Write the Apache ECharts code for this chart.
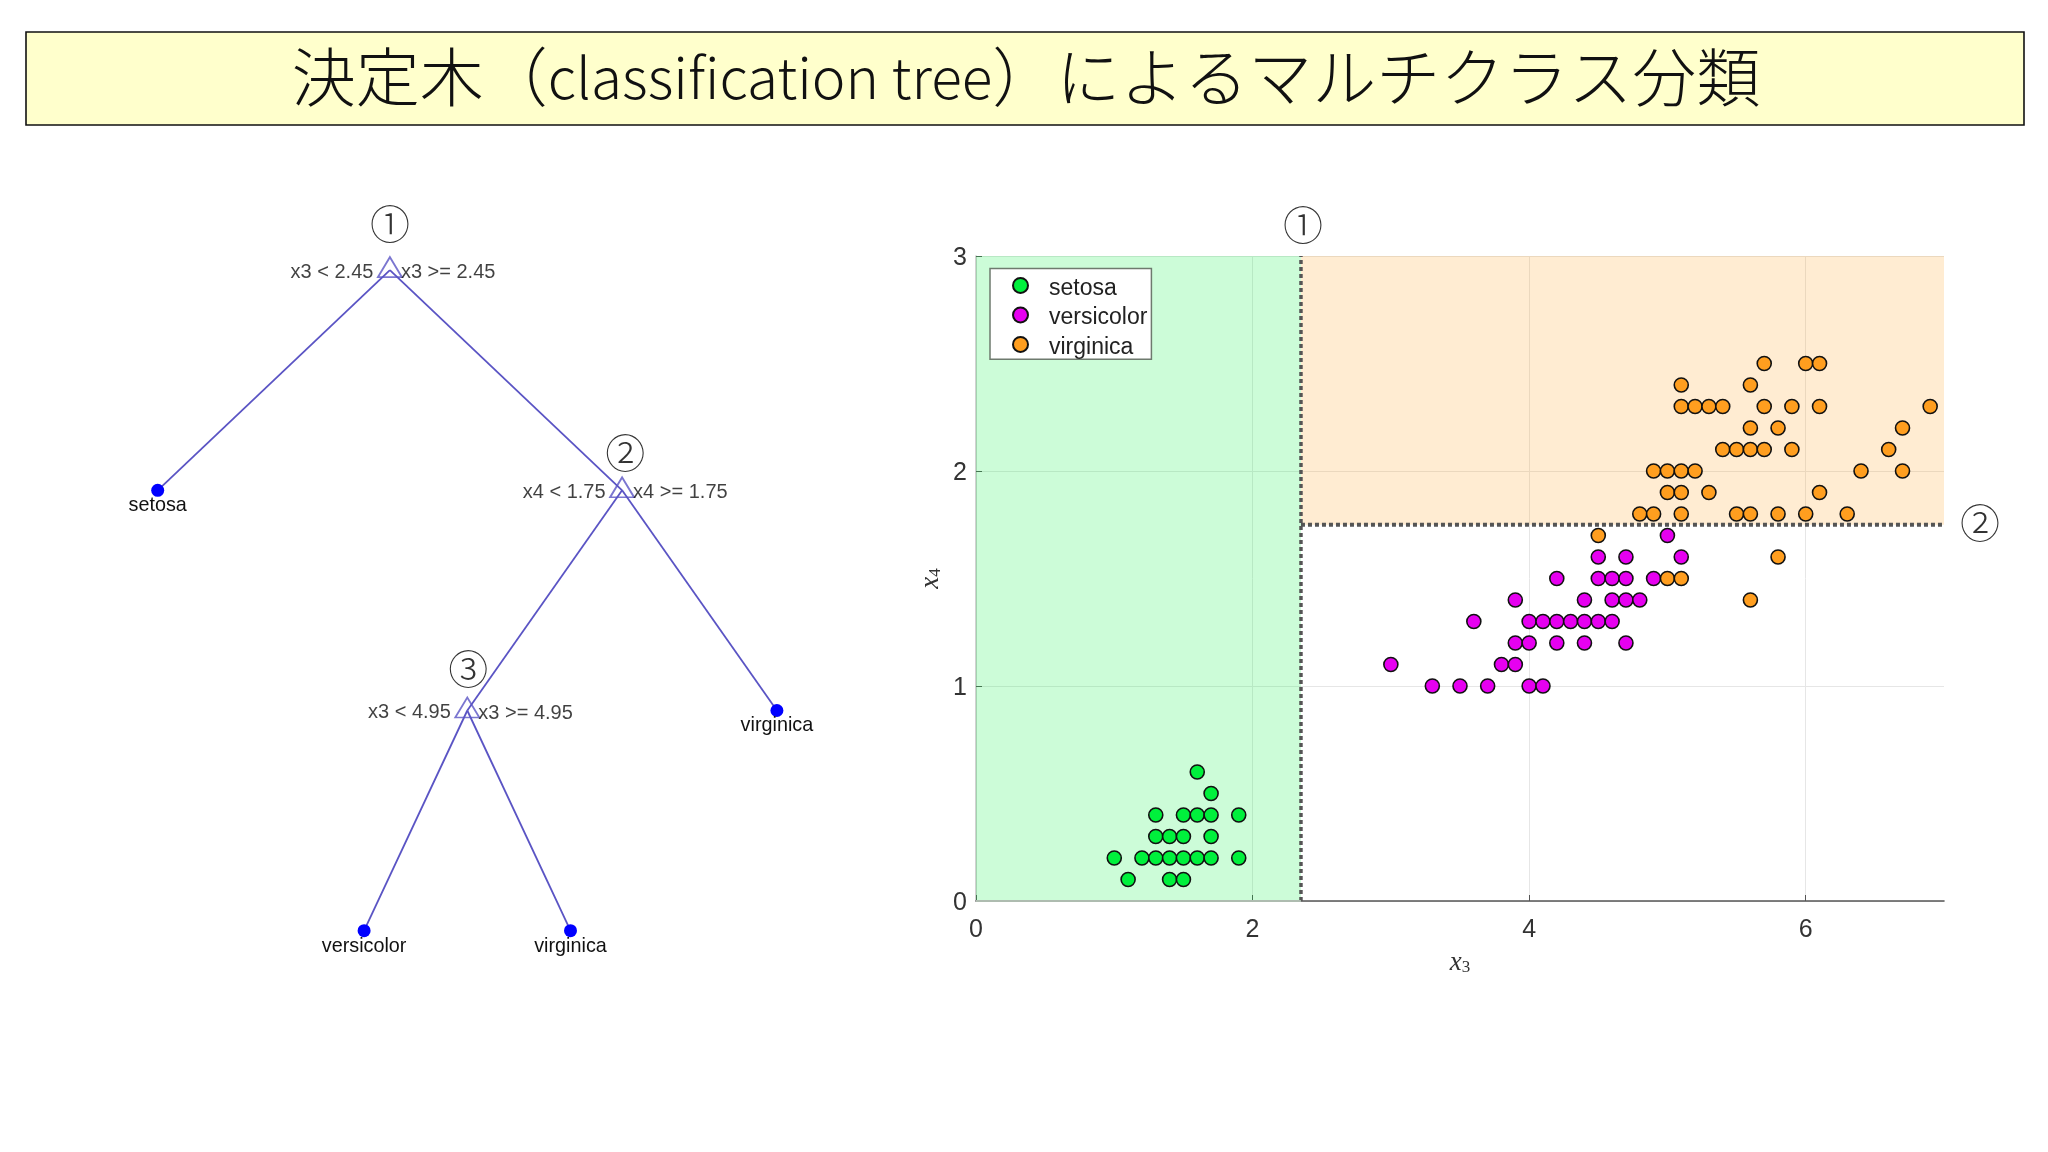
<!DOCTYPE html>
<html>
<head>
<meta charset="utf-8">
<title>決定木</title>
<script src="https://cdn.jsdelivr.net/npm/echarts@6/dist/echarts.min.js"></script>
<style>
  html, body { margin: 0; padding: 0; background: #fff; }
  #main { width: 2048px; height: 1152px; }
</style>
</head>
<body>
<div id="main"></div>
<script>
const titleText = '{c|決定木（}{l|classification tree}{c|）によるマルチクラス分類}';

// iris points, [x3, x4]
const setosa = [
  [1.1, 0.1], [1.4, 0.1], [1.5, 0.1],
  [1.0, 0.2], [1.2, 0.2], [1.3, 0.2], [1.4, 0.2], [1.5, 0.2], [1.6, 0.2], [1.7, 0.2], [1.9, 0.2],
  [1.3, 0.3], [1.4, 0.3], [1.5, 0.3], [1.7, 0.3],
  [1.3, 0.4], [1.5, 0.4], [1.6, 0.4], [1.7, 0.4], [1.9, 0.4],
  [1.7, 0.5], [1.6, 0.6]
];
const versicolor = [
  [3.3, 1.0], [3.5, 1.0], [3.7, 1.0], [4.0, 1.0], [4.1, 1.0],
  [3.0, 1.1], [3.8, 1.1], [3.9, 1.1],
  [3.9, 1.2], [4.0, 1.2], [4.2, 1.2], [4.4, 1.2], [4.7, 1.2],
  [3.6, 1.3], [4.0, 1.3], [4.1, 1.3], [4.2, 1.3], [4.3, 1.3], [4.4, 1.3], [4.5, 1.3], [4.6, 1.3],
  [3.9, 1.4], [4.4, 1.4], [4.6, 1.4], [4.7, 1.4], [4.8, 1.4],
  [4.2, 1.5], [4.5, 1.5], [4.6, 1.5], [4.7, 1.5], [4.9, 1.5],
  [4.5, 1.6], [4.7, 1.6], [5.1, 1.6],
  [5.0, 1.7]
];
const virginica = [
  [5.6, 1.4],
  [5.0, 1.5], [5.1, 1.5],
  [5.8, 1.6],
  [4.5, 1.7],
  [4.8, 1.8], [4.9, 1.8], [5.1, 1.8], [5.5, 1.8], [5.6, 1.8], [5.8, 1.8], [6.0, 1.8], [6.3, 1.8],
  [5.0, 1.9], [5.1, 1.9], [5.3, 1.9], [6.1, 1.9],
  [4.9, 2.0], [5.0, 2.0], [5.1, 2.0], [5.2, 2.0], [6.4, 2.0], [6.7, 2.0],
  [5.4, 2.1], [5.5, 2.1], [5.6, 2.1], [5.7, 2.1], [5.9, 2.1], [6.6, 2.1],
  [5.6, 2.2], [5.8, 2.2], [6.7, 2.2],
  [5.1, 2.3], [5.2, 2.3], [5.3, 2.3], [5.4, 2.3], [5.7, 2.3], [5.9, 2.3], [6.1, 2.3], [6.9, 2.3],
  [5.1, 2.4], [5.6, 2.4],
  [5.7, 2.5], [6.0, 2.5], [6.1, 2.5]
];
const xTicks = [0, 2, 4, 6];
const yTicks = [0, 1, 2, 3];
const splitX = 2.35;
const splitY = 1.75;
const regionNumbers = [[2.365, 3.145, '①'], [7.26, 1.76, '②']];

// tree: x = leaf position, y = depth
const treeBranch = [[2.125, 0, 'x3 < 2.45', 'x3 >= 2.45'], [3.25, 1, 'x4 < 1.75', 'x4 >= 1.75'], [2.5, 2, 'x3 < 4.95', 'x3 >= 4.95']];
const treeLeaf = [[1, 1, 'setosa'], [4, 2, 'virginica'], [2, 3, 'versicolor'], [3, 3, 'virginica']];
const treeEdges = [
  [[2.125, 0], [1, 1]], [[2.125, 0], [3.25, 1]],
  [[3.25, 1], [2.5, 2]], [[3.25, 1], [4, 2]],
  [[2.5, 2], [2, 3]], [[2.5, 2], [3, 3]]
];
const treeNumbers = [[2.125, -0.21, '①'], [3.265, 0.83, '②'], [2.505, 1.81, '③']];

const sansFont = '"Liberation Sans", Arial, sans-serif';
const cjkFont = '"Noto Sans CJK JP", sans-serif';
const treeColor = '#5a54c4';
const darkLine = '#555';

function pointSeries(name, data, color) {
  return {
    name: name,
    type: 'scatter',
    xAxisIndex: 0,
    yAxisIndex: 0,
    data: data,
    symbolSize: 14,
    z: 3,
    itemStyle: { color: color, borderColor: '#111', borderWidth: 1.6, opacity: 1 }
  };
}

function numberSeries(data, xIdx) {
  return {
    type: 'scatter',
    xAxisIndex: xIdx,
    yAxisIndex: xIdx,
    data: data,
    symbolSize: 1,
    clip: false,
    itemStyle: { color: 'transparent' },
    label: {
      show: true,
      position: 'inside',
      formatter: (p) => p.data[2],
      fontFamily: cjkFont,
      fontSize: 40,
      fontWeight: 300,
      color: '#000'
    }
  };
}

const axisNameRich = {
  i: { fontFamily: '"Liberation Serif", serif', fontStyle: 'italic', fontSize: 27, color: '#333' },
  s: { fontFamily: '"Liberation Serif", serif', fontSize: 17, color: '#333', verticalAlign: 'bottom', padding: [10, 0, 0, 0] }
};

const option = {
  animation: false,
  backgroundColor: '#fff',
  title: {
    text: titleText,
    left: 1021,
    top: 40,
    textAlign: 'center',
    textStyle: {
      rich: {
        c: { fontFamily: cjkFont, fontSize: 64, fontWeight: 300, color: '#111' },
        l: { fontFamily: cjkFont, fontSize: 56.7, fontWeight: 300, color: '#111' }
      }
    }
  },
  graphic: [{
    type: 'rect',
    shape: { x: 26, y: 32, width: 1998, height: 93 },
    style: { fill: '#ffffcc', stroke: '#111', lineWidth: 1.6 },
    z: 0
  }],
  legend: {
    left: 990,
    top: 268.5,
    orient: 'vertical',
    padding: [8.4, 4, 0.3, 22],
    itemWidth: 47,
    itemHeight: 15,
    itemGap: 6.5,
    backgroundColor: '#fff',
    borderColor: '#6e7a6e',
    borderWidth: 1.5,
    borderRadius: 0,
    data: ['setosa', 'versicolor', 'virginica'],
    formatter: '{t|{name}}',
    textStyle: {
      rich: { t: { fontFamily: sansFont, fontSize: 23, padding: [6, 0, 0, 0], color: '#222' } }
    }
  },
  grid: [
    { left: 976, top: 256, width: 968, height: 645 },
    { left: 54.5, top: 160, width: 825.6, height: 880.8 }
  ],
  xAxis: [
    {
      type: 'value',
      gridIndex: 0,
      min: 0,
      max: 7,
      interval: 2,
      name: '{i|x}{s|3}',
      nameLocation: 'middle',
      nameGap: 48,
      nameTextStyle: { rich: axisNameRich },
      axisLine: { show: true, lineStyle: { color: darkLine, width: 1.6 } },
      axisTick: { show: true, inside: true, length: 6, customValues: xTicks, lineStyle: { color: darkLine, width: 1 } },
      axisLabel: { customValues: xTicks, margin: 17, fontFamily: sansFont, fontSize: 25, color: '#333' },
      splitLine: { show: true, lineStyle: { color: '#e6e6e6', width: 1 } }
    },
    { type: 'value', gridIndex: 1, min: 0.5, max: 4.5, show: false }
  ],
  yAxis: [
    {
      type: 'value',
      gridIndex: 0,
      min: 0,
      max: 3,
      interval: 1,
      name: '{i|x}{s|4}',
      nameLocation: 'middle',
      nameGap: 32,
      nameRotate: 90,
      nameTextStyle: { rich: axisNameRich },
      axisLine: { show: true, lineStyle: { color: '#c6c6c6', width: 1.6 } },
      axisTick: { show: true, inside: true, length: 6, lineStyle: { color: darkLine, width: 1 } },
      axisLabel: {
        customValues: yTicks,
        margin: 9,
        formatter: '{t|{value}}',
        rich: { t: { fontFamily: sansFont, fontSize: 25, padding: [4, 0, 0, 0], color: '#333' } }
      },
      splitLine: { show: true, lineStyle: { color: '#e6e6e6', width: 1 } }
    },
    { type: 'value', gridIndex: 1, min: -0.5, max: 3.5, inverse: true, show: false }
  ],
  series: [
    {
      // decision regions
      type: 'line',
      xAxisIndex: 0,
      yAxisIndex: 0,
      data: [],
      z: 1,
      markArea: {
        silent: true,
        data: [
          [{ coord: [0, 0], itemStyle: { color: 'rgba(0,240,60,0.2)' } }, { coord: [splitX, 3] }],
          [{ coord: [splitX, splitY], itemStyle: { color: 'rgba(255,158,31,0.2)' } }, { coord: [7, 3] }]
        ]
      }
    },
    {
      type: 'line',
      xAxisIndex: 0,
      yAxisIndex: 0,
      data: [[splitX, 0], [splitX, 3]],
      symbol: 'none',
      z: 2,
      lineStyle: { color: darkLine, width: 3.5, type: [4, 3] }
    },
    {
      type: 'line',
      xAxisIndex: 0,
      yAxisIndex: 0,
      data: [[splitX, splitY], [7, splitY]],
      symbol: 'none',
      z: 2,
      lineStyle: { color: darkLine, width: 4, type: [4, 3] }
    },
    {
      // axis line looks washed out under the green patch
      type: 'line',
      xAxisIndex: 0,
      yAxisIndex: 0,
      data: [[0, 0], [splitX, 0]],
      symbol: 'none',
      clip: false,
      z: 2,
      lineStyle: { color: '#aebcb0', width: 1.8 }
    },
    pointSeries('setosa', setosa, '#00f03c'),
    pointSeries('versicolor', versicolor, '#e600f0'),
    pointSeries('virginica', virginica, '#ff9e1f'),
    numberSeries(regionNumbers, 0),

    // tree
    {
      type: 'lines',
      coordinateSystem: 'cartesian2d',
      xAxisIndex: 1,
      yAxisIndex: 1,
      data: treeEdges.map((e) => ({ coords: e })),
      lineStyle: { color: treeColor, width: 1.8, opacity: 1 }
    },
    {
      type: 'scatter',
      xAxisIndex: 1,
      yAxisIndex: 1,
      data: treeBranch,
      symbol: 'triangle',
      symbolSize: [24, 20],
      symbolOffset: [0, -3],
      itemStyle: { color: 'transparent', borderColor: treeColor, borderWidth: 1.8 },
      label: {
        show: true,
        position: 'left',
        distance: 3.5,
        offset: [0, 5],
        formatter: (p) => p.data[2],
        fontFamily: sansFont,
        fontSize: 20,
        color: '#111'
      }
    },
    {
      type: 'scatter',
      xAxisIndex: 1,
      yAxisIndex: 1,
      data: treeBranch,
      symbolSize: 20,
      itemStyle: { color: 'transparent' },
      label: {
        show: true,
        position: 'right',
        distance: 1,
        offset: [0, 2.5],
        formatter: (p) => p.data[3],
        fontFamily: sansFont,
        fontSize: 20,
        color: '#111'
      }
    },
    {
      type: 'scatter',
      xAxisIndex: 1,
      yAxisIndex: 1,
      data: treeLeaf,
      symbolSize: 13,
      itemStyle: { color: '#0000ff', opacity: 1 },
      label: {
        show: true,
        position: 'bottom',
        distance: -1,
        formatter: (p) => p.data[2],
        fontFamily: sansFont,
        fontSize: 19.8,
        color: '#111'
      }
    },
    numberSeries(treeNumbers, 1)
  ]
};

const chart = echarts.init(document.getElementById('main'));
chart.setOption(option);
</script>
</body>
</html>
